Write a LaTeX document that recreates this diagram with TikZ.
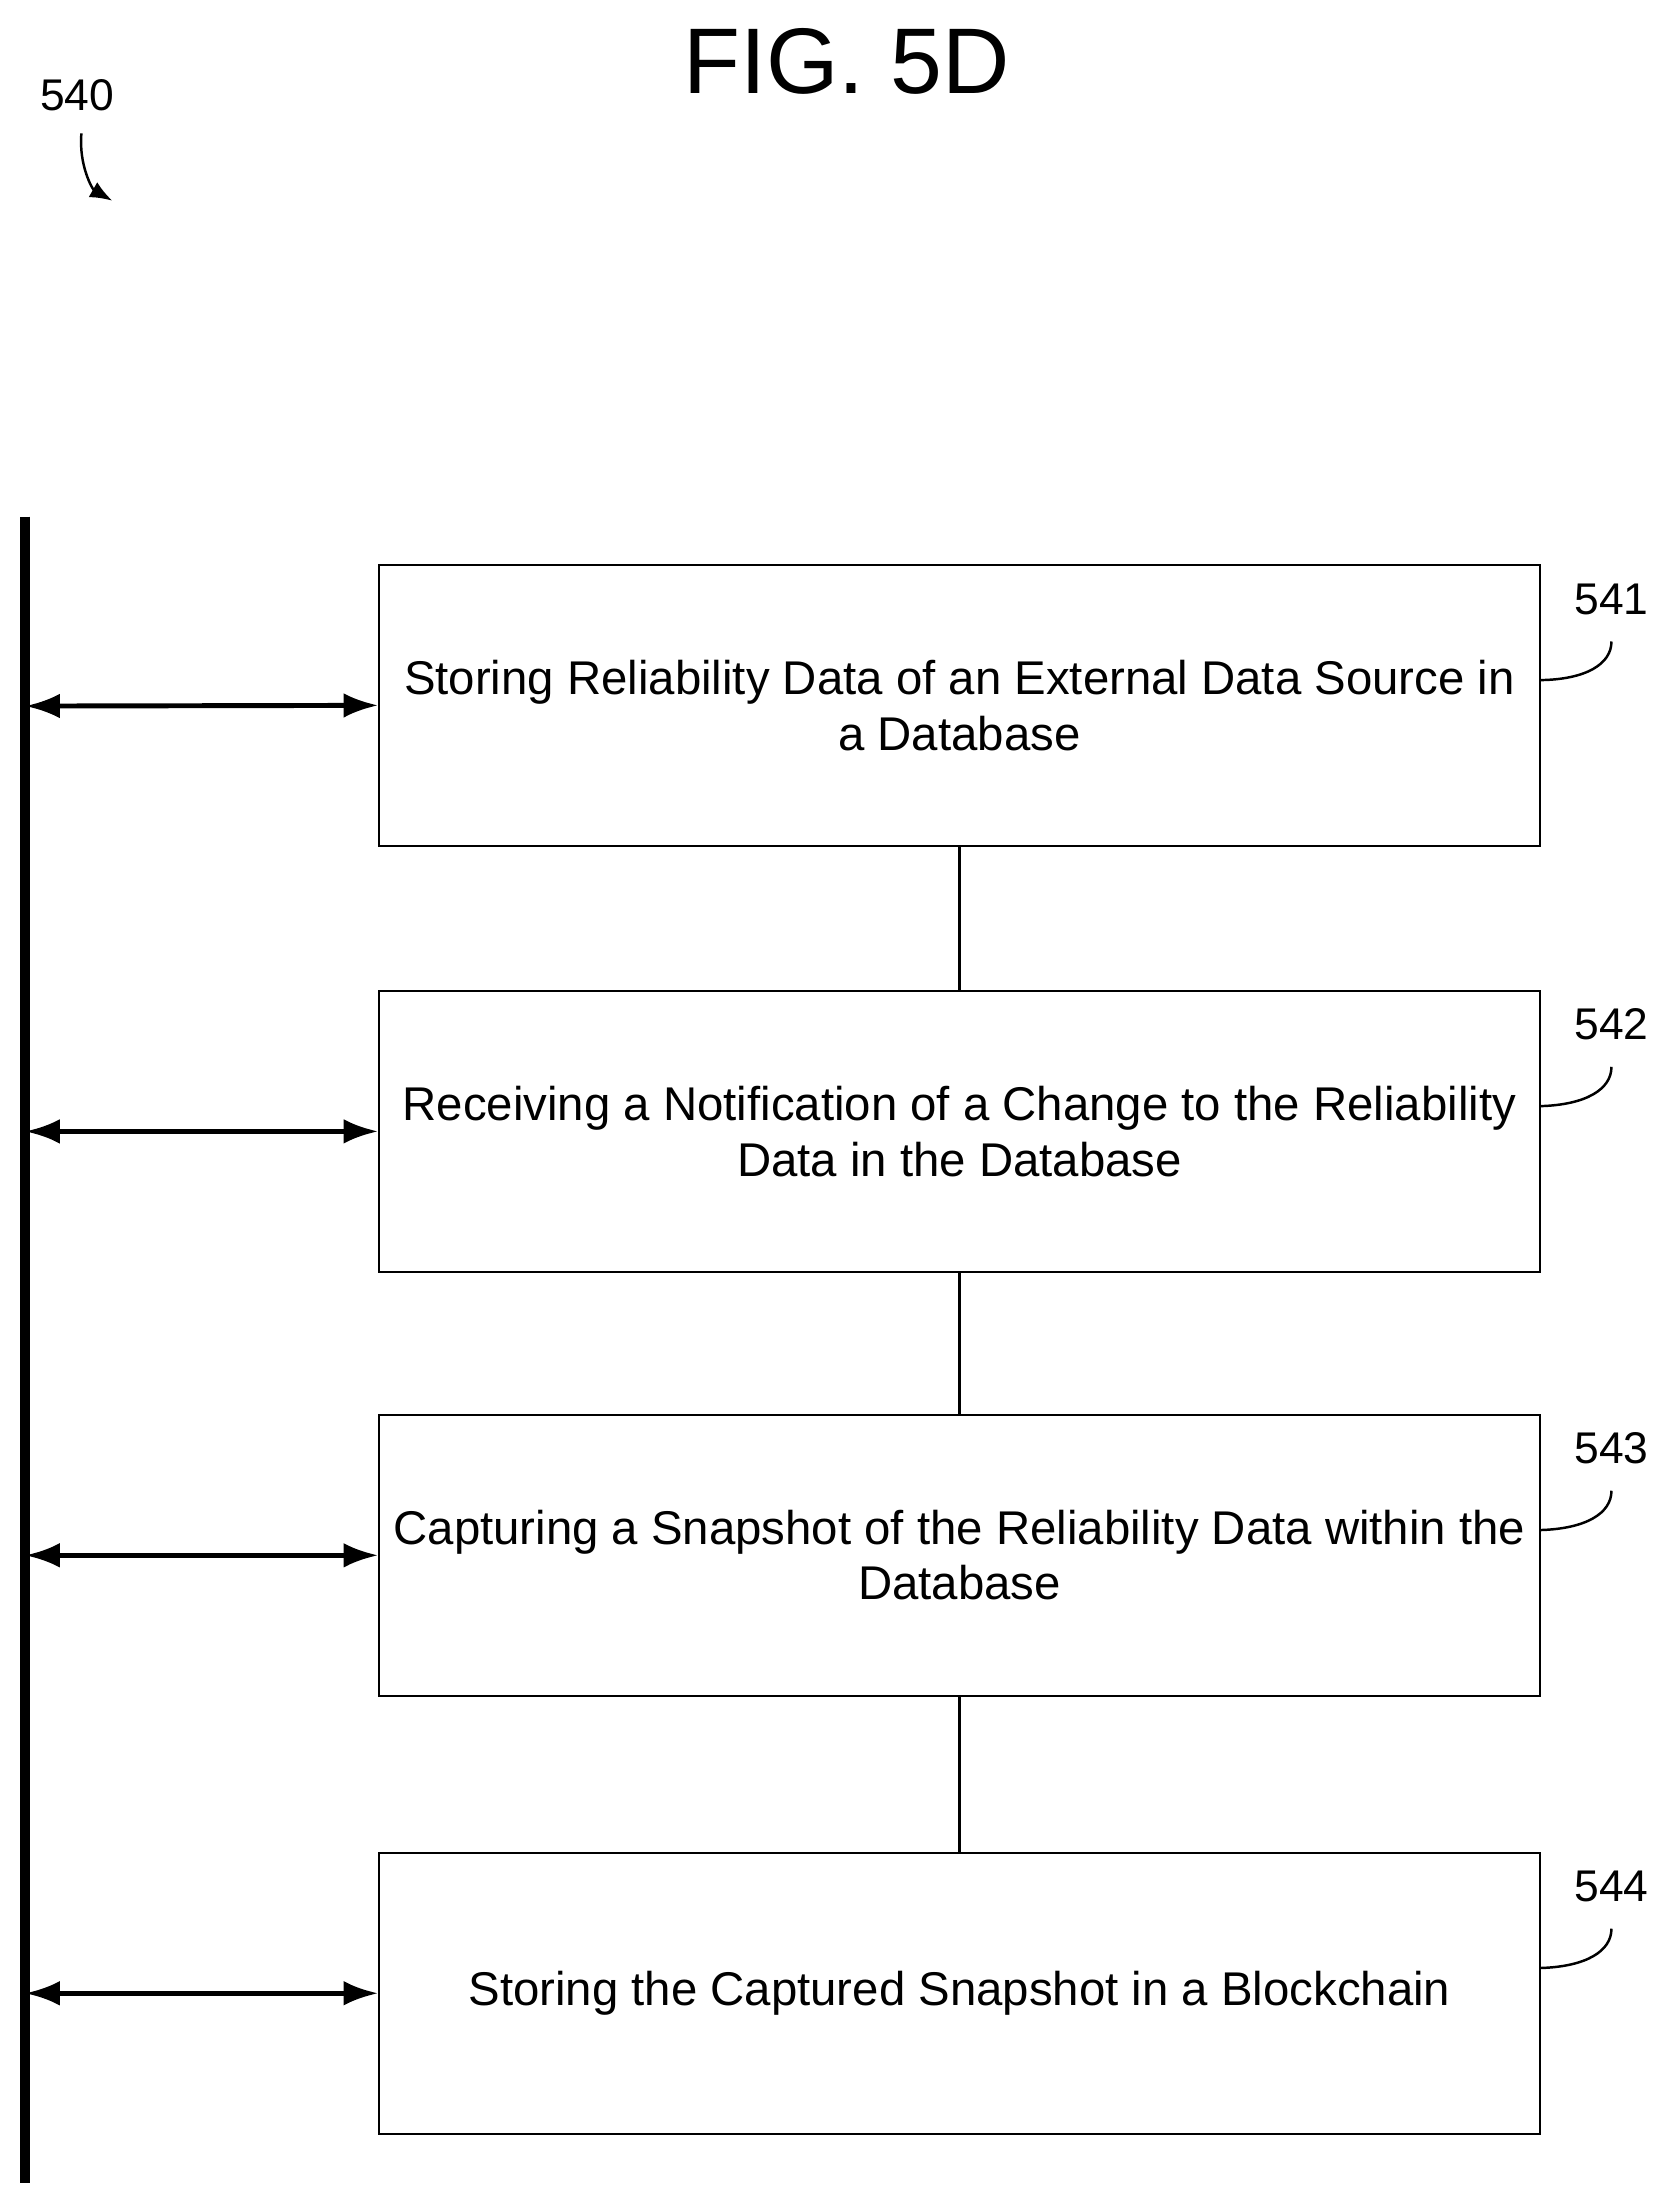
\documentclass[tikz,border=0pt]{standalone}
\usepackage{fontspec}
\setmainfont{Liberation Sans}
\usetikzlibrary{arrows.meta}
\begin{document}
\begin{tikzpicture}[x=0.02cm,y=-0.02cm,
  stepbox/.style={draw,line width=0.8pt,minimum width=16.54cm,minimum height=4cm,align=center,font=\fontsize{19.2}{22.5}\selectfont},
  lbl/.style={font=\fontsize{18}{21}\selectfont},
  dbl/.style={{Latex[length=14pt,width=10pt]}-{Latex[length=14pt,width=10pt]},line width=2pt},
  conn/.style={line width=1pt}]
\useasboundingbox (0,0) rectangle (1190,1568);
\node[font=\fontsize{37.8}{42}\selectfont] (title) at (603,44) {FIG. 5D};
\node[lbl] (n540) at (55,68) {540};
\coordinate (a0) at (58,95);
\coordinate (a1) at (80,143);
\draw[-{Latex[length=9pt,width=7pt]},line width=1pt] (a0) .. controls (56,118) and (66,135) .. (a1);
\coordinate (vt) at (18,368);
\coordinate (vb) at (18,1555);
\draw[line width=4pt] (vt) -- (vb);
\node[stepbox] (b1) at (683.5,502.5) {Storing Reliability Data of an External Data Source in\\a Database};
\node[stepbox] (b2) at (683.5,806) {Receiving a Notification of a Change to the Reliability\\Data in the Database};
\node[stepbox] (b3) at (683.5,1108) {Capturing a Snapshot of the Reliability Data within the\\Database};
\node[stepbox] (b4) at (683.5,1420) {Storing the Captured Snapshot in a Blockchain};
\draw[conn] (b1) -- (b2);
\draw[conn] (b2) -- (b3);
\draw[conn] (b3) -- (b4);
\foreach \b/\n/\y in {b1/541/503,b2/542/806,b3/543/1108,b4/544/1420}{
  \coordinate (L\n) at (18,\y);
  \draw[dbl] (L\n) -- (\b.west);
  \node[lbl] (t\n) at (1148,\y-76) {\n};
  \draw[line width=1pt] (\b.east) ++(0,-18) .. controls (1130,\y-19) and (1148,\y-30) .. (1148,\y-46);
}
\end{tikzpicture}
\end{document}
